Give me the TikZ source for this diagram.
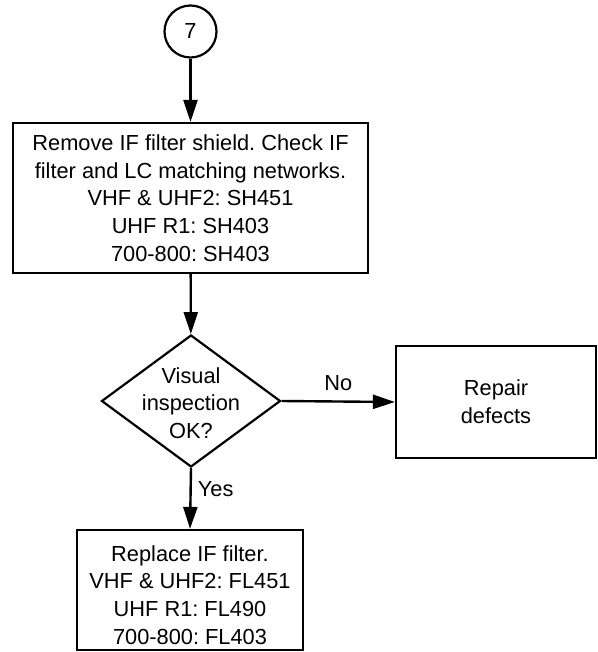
\documentclass[tikz,border=0pt]{standalone}
\usepackage{fontspec}
\setmainfont{Liberation Sans}
\usetikzlibrary{arrows.meta,shapes.geometric}
\frenchspacing
\begin{document}
\begin{tikzpicture}[x=1pt,y=-1pt,
  every node/.style={font=\fontsize{21.8}{27.7}\selectfont, align=center, inner sep=0pt},
  box/.style={draw, line width=2.2pt, rectangle},
  conn/.style={line width=2.4pt, -{Triangle[length=22pt,width=14pt]}}]
\useasboundingbox (0,0) rectangle (597,652);
\node[draw, circle, line width=2.2pt, minimum size=52pt] (c7) at (190.5,31.5) {7};
\node[box, minimum width=355pt, minimum height=150pt] (b1) at (190.5,198)
  {Remove IF filter shield. Check IF\\filter and LC matching networks.\\VHF \& UHF2: SH451\\UHF R1: SH403\\700-800: SH403};
\node[draw, diamond, line width=2.2pt, minimum width=179pt, minimum height=132pt] (d) at (191,401) {};
\node (dt) at (191,403) {Visual\\inspection\\OK?};
\node[box, minimum width=200pt, minimum height=112pt] (rep) at (496,402) {Repair\\defects};
\node[box, minimum width=226pt, minimum height=120pt] (b2) at (190,590) {};
\node (b2t) at (190,595) {Replace IF filter.\\VHF \& UHF2: FL451\\UHF R1: FL490\\700-800: FL403};
\draw[conn] (c7) -- (b1);
\draw[conn] (b1) -- (d);
\draw[conn] (d.east) -- node[above=10pt] {No} (rep.west);
\draw[conn] (d.south) -- node[right=6pt, pos=0.35] {Yes} (b2.north);
\end{tikzpicture}
\end{document}
